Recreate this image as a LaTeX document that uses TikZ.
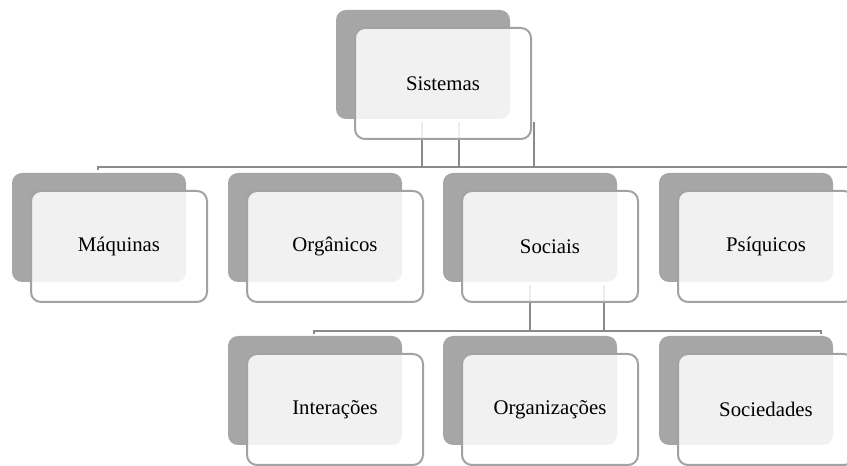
\documentclass[tikz,border=0pt]{standalone}
\usepackage{fontspec}
\setmainfont{Liberation Serif}
\usepackage{tikz}
\definecolor{cardshade}{HTML}{A6A6A6}
\definecolor{cardedge}{HTML}{A2A2A2}
\definecolor{linkgray}{HTML}{8A8A8A}

\begin{document}
\begin{tikzpicture}[
  x=0.75pt, y=-0.75pt,
  cardback/.style={
    rectangle, fill=cardshade, rounded corners=7.5pt,
    minimum width=130.5pt, minimum height=81.75pt, inner sep=0pt
  },
  cardfront/.style={
    rectangle, draw=cardedge, line width=1.5pt,
    fill=white, fill opacity=0.85, text opacity=1,
    rounded corners=7.5pt, inner sep=0pt,
    minimum width=132pt, minimum height=83.25pt,
    font=\fontsize{15.6pt}{18pt}\selectfont
  },
  link/.style={draw=linkgray, line width=1.5pt}
]
  \clip (0,0) rectangle (847,466);
  \foreach \nm/\x/\y in {sis/336/10, maq/12/173, org/228/173, soc/443/173,
                         psi/659/173, int/228/336, orz/443/336, sdd/659/336} {
    \node[cardback] (\nm-bk) at (\x+87,\y+54.5){};
  }
  % connectors
  \coordinate (busA) at (98,167);
  \coordinate (busB) at (852,167);
  \draw[link] ([shift={(0,3)}]busA) -- (busA) -- (busB);
  \foreach \dx in {-1,36,111} {
    \draw[link] ([shift={(\dx,3)}]sis-bk.south) coordinate (t)
      -- (t |- busA);
  }
  \coordinate (busC) at (314,331);
  \coordinate (busD) at (821,331);
  \draw[link] ([shift={(0,3)}]busC) -- (busC) -- (busD)
    -- ([shift={(0,3)}]busD);
  \foreach \dx in {0,74} {
    \draw[link] ([shift={(\dx,3)}]soc-bk.south) coordinate (t)
      -- (t |- busC);
  }
  % front cards
  \foreach \nm/\txt in {sis/Sistemas, maq/Máquinas, org/Orgânicos,
                        soc/Sociais, psi/Psíquicos, int/Interações,
                        orz/Organizações, sdd/Sociedades} {
    \node[cardfront] (\nm) at ([shift={(20,19)}]\nm-bk.center){\txt};
  }
\end{tikzpicture}
\end{document}
